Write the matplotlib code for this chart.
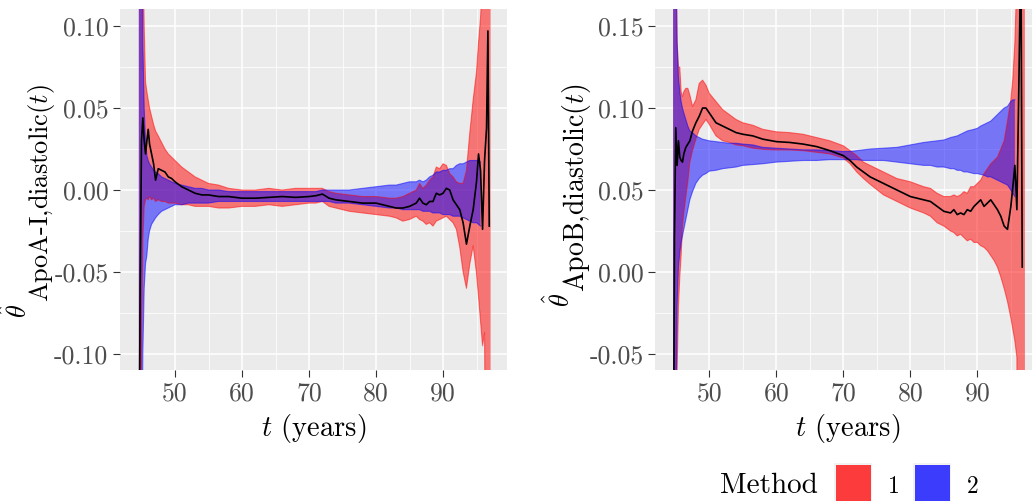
import matplotlib
matplotlib.use("Agg")
import matplotlib.pyplot as plt
import numpy as np
from matplotlib.patches import Rectangle
from matplotlib.transforms import IdentityTransform

plt.rcParams['font.family'] = 'cmr10'
plt.rcParams['mathtext.fontset'] = 'cm'
plt.rcParams['axes.unicode_minus'] = False

nan = np.nan

# age grid (years)
ages = [44.6, 44.8, 45.0, 45.2, 45.4, 45.6, 45.8, 46.0, 46.2, 46.5,
        46.8, 47.1, 47.5, 48.0, 48.5, 49.0, 49.5, 50.0, 51.0, 52.0,
        53.0, 54.0, 55.0, 56.5, 58.0, 60.0, 62.0, 64.0, 66.0, 68.0,
        70.0, 71.0, 72.0, 73.0, 74.0, 76.0, 78.0, 80.0, 82.0, 83.0,
        84.0, 85.0, 86.0, 86.5, 87.0, 87.5, 88.0, 88.5, 89.0, 89.5,
        90.0, 90.5, 91.0, 91.5, 92.0, 92.5, 93.0, 93.5, 94.0, 94.5,
        95.0, 95.3, 95.6, 95.9, 96.2, 96.5, 96.7, 96.9, 97.1]

# ApoA-I panel
apoa_est = [-0.20, -0.06, 0.030, 0.044, 0.030, 0.022, 0.030, 0.037, 0.028, 0.022,
            0.016, 0.006, 0.013, 0.012, 0.011, 0.008, 0.007, 0.005, 0.002, 0.000,
            -0.002, -0.003, -0.003, -0.004, -0.004, -0.005, -0.005, -0.0045, -0.004, -0.0045,
            -0.004, -0.0035, -0.0025, -0.005, -0.006, -0.007, -0.008, -0.008, -0.010, -0.011,
            -0.011, -0.010, -0.008, -0.005, -0.008, -0.009, -0.007, -0.007, -0.002, -0.003,
            -0.002, 0.001, 0.000, -0.006, -0.009, -0.012, -0.020, -0.033, -0.022, -0.012,
            0.005, 0.022, 0.012, -0.024, 0.018, 0.038, 0.097, -0.022, nan]
apoa_m1_hi = [0.30, 0.30, 0.25, 0.15, 0.10, 0.066, 0.060, 0.055, 0.050, 0.045,
              0.040, 0.036, 0.033, 0.029, 0.025, 0.022, 0.020, 0.018, 0.014, 0.011,
              0.008, 0.006, 0.004, 0.003, 0.001, 0.000, 0.000, 0.001, 0.000, 0.001,
              0.001, 0.001, 0.001, -0.001, -0.002, -0.003, -0.004, -0.004, -0.005, -0.005,
              -0.004, -0.002, 0.000, 0.004, 0.001, 0.003, 0.006, 0.008, 0.014, 0.013,
              0.016, 0.015, 0.010, 0.008, 0.005, 0.004, 0.004, 0.012, 0.035, 0.055,
              0.072, 0.090, 0.105, 0.13, 0.30, 0.30, 0.30, 0.30, 0.30]
apoa_m1_lo = [-0.30, -0.30, -0.10, -0.03, -0.010, -0.006, -0.005, -0.006, -0.004, -0.006,
              -0.005, -0.007, -0.006, -0.007, -0.007, -0.008, -0.008, -0.008, -0.009, -0.009,
              -0.010, -0.010, -0.010, -0.011, -0.011, -0.010, -0.010, -0.009, -0.010, -0.009,
              -0.008, -0.008, -0.007, -0.010, -0.011, -0.013, -0.014, -0.015, -0.016, -0.017,
              -0.019, -0.018, -0.016, -0.018, -0.019, -0.021, -0.020, -0.022, -0.019, -0.018,
              -0.017, -0.016, -0.018, -0.020, -0.024, -0.035, -0.050, -0.060, -0.045, -0.034,
              -0.051, -0.065, -0.080, -0.095, -0.087, -0.30, -0.30, -0.30, -0.30]
apoa_m2_hi = [0.30, 0.30, 0.20, 0.09, 0.050, 0.030, 0.021, 0.018, 0.016, 0.014,
              0.012, 0.011, 0.010, 0.008, 0.007, 0.006, 0.005, 0.004, 0.003, 0.002,
              0.001, 0.001, 0.000, 0.000, -0.001, -0.001, -0.001, -0.001, -0.001, -0.001,
              -0.001, -0.001, 0.000, 0.000, 0.000, 0.000, 0.001, 0.002, 0.003, 0.003,
              0.004, 0.005, 0.005, 0.006, 0.005, 0.006, 0.008, 0.009, 0.011, 0.011,
              0.012, 0.012, 0.013, 0.013, 0.015, 0.016, 0.016, 0.017, 0.018, 0.018,
              0.018, 0.018, 0.017, nan, nan, nan, nan, nan, nan]
apoa_m2_lo = [-0.30, -0.30, -0.20, -0.10, -0.060, -0.045, -0.040, -0.030, -0.025, -0.021,
              -0.019, -0.017, -0.015, -0.013, -0.012, -0.011, -0.010, -0.009, -0.009, -0.008,
              -0.008, -0.008, -0.008, -0.007, -0.007, -0.007, -0.007, -0.007, -0.007, -0.007,
              -0.007, -0.007, -0.007, -0.007, -0.008, -0.008, -0.009, -0.010, -0.011, -0.011,
              -0.012, -0.012, -0.012, -0.012, -0.013, -0.013, -0.013, -0.014, -0.014, -0.014,
              -0.015, -0.015, -0.015, -0.016, -0.016, -0.016, -0.017, -0.018, -0.019, -0.020,
              -0.020, -0.021, -0.022, nan, nan, nan, nan, nan, nan]

# ApoB panel
apob_est = [-0.20, 0.02, 0.088, 0.065, 0.080, 0.070, 0.068, 0.067, 0.072, 0.076,
            0.078, 0.080, 0.086, 0.091, 0.095, 0.100, 0.100, 0.097, 0.091, 0.089,
            0.087, 0.085, 0.084, 0.083, 0.081, 0.0795, 0.079, 0.078, 0.0765, 0.074,
            0.071, 0.068, 0.064, 0.061, 0.058, 0.054, 0.050, 0.046, 0.044, 0.043,
            0.040, 0.037, 0.036, 0.038, 0.035, 0.036, 0.035, 0.038, 0.037, 0.040,
            0.042, 0.044, 0.040, 0.042, 0.044, 0.041, 0.038, 0.034, 0.028, 0.026,
            0.040, 0.052, 0.065, 0.038, 0.115, 0.20, 0.003, nan, nan]
apob_m1_hi = [0.30, 0.30, 0.22, 0.14, 0.125, 0.125, 0.110, 0.107, 0.110, 0.112,
              0.112, 0.108, 0.101, 0.105, 0.115, 0.117, 0.114, 0.109, 0.104, 0.099,
              0.096, 0.093, 0.091, 0.0895, 0.087, 0.0855, 0.085, 0.084, 0.082, 0.080,
              0.077, 0.074, 0.071, 0.067, 0.065, 0.061, 0.057, 0.055, 0.052, 0.051,
              0.048, 0.046, 0.046, 0.047, 0.046, 0.047, 0.049, 0.048, 0.052, 0.052,
              0.054, 0.056, 0.060, 0.063, 0.066, 0.068, 0.070, 0.075, 0.080, 0.092,
              0.105, 0.118, 0.14, 0.18, 0.30, 0.30, 0.30, 0.30, 0.30]
apob_m1_lo = [-0.30, -0.30, -0.15, -0.06, -0.021, -0.003, 0.010, 0.028, 0.036, 0.046,
              0.055, 0.067, 0.074, 0.081, 0.087, 0.090, 0.093, 0.090, 0.083, 0.080,
              0.079, 0.0775, 0.077, 0.0755, 0.0748, 0.0744, 0.0744, 0.074, 0.073, 0.072,
              0.0695, 0.066, 0.061, 0.057, 0.0535, 0.047, 0.043, 0.039, 0.036, 0.034,
              0.030, 0.028, 0.025, 0.024, 0.022, 0.023, 0.021, 0.019, 0.020, 0.018,
              0.018, 0.016, 0.015, 0.013, 0.010, 0.007, 0.003, -0.003, -0.010, -0.018,
              -0.028, -0.035, -0.042, -0.052, -0.30, -0.30, -0.30, -0.30, -0.30]
apob_m2_hi = [0.30, 0.30, 0.20, 0.14, 0.119, 0.110, 0.104, 0.100, 0.097, 0.093,
              0.089, 0.086, 0.085, 0.083, 0.082, 0.081, 0.0805, 0.080, 0.0795, 0.079,
              0.0785, 0.0785, 0.078, 0.0775, 0.076, 0.0755, 0.075, 0.0745, 0.0745, 0.074,
              0.0735, 0.0735, 0.074, 0.0745, 0.075, 0.0755, 0.076, 0.0775, 0.079, 0.0795,
              0.080, 0.0805, 0.082, 0.0825, 0.083, 0.084, 0.085, 0.086, 0.0865, 0.087,
              0.0876, 0.089, 0.090, 0.091, 0.092, 0.094, 0.096, 0.098, 0.100, 0.101,
              0.104, 0.105, 0.105, nan, nan, nan, nan, nan, nan]
apob_m2_lo = [-0.30, -0.30, -0.10, -0.02, 0.003, 0.012, 0.018, 0.022, 0.026, 0.032,
              0.038, 0.044, 0.049, 0.054, 0.057, 0.059, 0.060, 0.0615, 0.062, 0.063,
              0.0635, 0.064, 0.065, 0.0655, 0.066, 0.067, 0.0675, 0.068, 0.068, 0.0685,
              0.0685, 0.0685, 0.0685, 0.068, 0.068, 0.068, 0.067, 0.066, 0.065, 0.065,
              0.064, 0.064, 0.063, 0.063, 0.062, 0.062, 0.061, 0.061, 0.0605, 0.060,
              0.060, 0.0595, 0.059, 0.058, 0.058, 0.057, 0.056, 0.055, 0.054, 0.053,
              0.050, 0.048, 0.046, nan, nan, nan, nan, nan, nan]

x_ticks = [50, 60, 70, 80, 90]
apoa_yticks = [-0.10, -0.05, 0.00, 0.05, 0.10]
apoa_ylabels = ["-0.10", "-0.05", "0.00", "0.05", "0.10"]
apob_yticks = [-0.05, 0.00, 0.05, 0.10, 0.15]
apob_ylabels = ["-0.05", "0.00", "0.05", "0.10", "0.15"]
methods = ["1", "2"]
method_colors = ["#FF0000", "#0000FF"]

W, H = 1032, 501
fig = plt.figure(figsize=(W / 100, H / 100), dpi=100)


def px_axes(x0, y0, x1, y1):
    return fig.add_axes([x0 / W, (H - y1) / H, (x1 - x0) / W, (y1 - y0) / H])


def draw_panel(ax, est, lo1, hi1, lo2, hi2, xlim, ylim, yticks, ylabels):
    t = np.array(ages)
    ax.set_facecolor('#EBEBEB')
    for sp in ax.spines.values():
        sp.set_visible(False)
    ax.set_axisbelow(True)
    for lo, hi, c in [(lo1, hi1, method_colors[0]), (lo2, hi2, method_colors[1])]:
        lo = np.array(lo, float)
        hi = np.array(hi, float)
        ax.fill_between(t, lo, hi, color=c, alpha=0.5, lw=0)
        ax.plot(t, lo, color=c, alpha=0.5, lw=0.8)
        ax.plot(t, hi, color=c, alpha=0.5, lw=0.8)
    ax.plot(t, np.array(est, float), color='black', lw=1.2)
    ax.set_xticks(x_ticks, labels=[str(v) for v in x_ticks])
    ax.set_xticks([45, 55, 65, 75, 85, 95], minor=True)
    ax.set_yticks(yticks, labels=ylabels)
    ax.set_yticks([(a + b) / 2 for a, b in zip(yticks[:-1], yticks[1:])]
                  + [yticks[-1] + 0.025, yticks[0] - 0.025], minor=True)
    ax.set_xlim(*xlim)
    ax.set_ylim(*ylim)
    ax.grid(which='major', color='white', lw=1.1)
    ax.grid(which='minor', color='white', lw=0.55)
    ax.tick_params(which='major', length=4.8, width=0.8, color='#333333',
                   labelcolor='#4D4D4D', labelsize=18.5, pad=3.5)
    ax.tick_params(which='minor', length=0)
    ax.set_xlabel(r'$t$ (years)', fontsize=20.5, labelpad=5)


axL = px_axes(120, 9, 507, 370)
draw_panel(axL, apoa_est, apoa_m1_lo, apoa_m1_hi, apoa_m2_lo, apoa_m2_hi,
           (41.79, 99.55), (-0.1098, 0.1104), apoa_yticks, apoa_ylabels)
axR = px_axes(655, 9, 1041, 370)
draw_panel(axR, apob_est, apob_m1_lo, apob_m1_hi, apob_m2_lo, apob_m2_hi,
           (41.9, 99.5), (-0.0598, 0.1604), apob_yticks, apob_ylabels)

# rotated y labels: hat-theta, then the subscript text and (t), read upward
idt = IdentityTransform()


def rotated_label(x_theta, x_sub, y_bottom, y_sub, sub, size):
    fig.text(x_theta, H - y_bottom, r'$\hat{\theta}$', fontsize=19, rotation=90,
             rotation_mode='anchor', ha='left', va='baseline', transform=idt)
    fig.text(x_sub, H - y_sub, sub, fontsize=size, rotation=90,
             rotation_mode='anchor', ha='left', va='baseline', transform=idt)


rotated_label(27, 48, 318, 302, r'ApoA-I,diastolic$(t)$', 19.0)
rotated_label(570, 584, 307, 292, r'ApoB,diastolic$(t)$', 20)

# legend
fig.text(720, H - 493, 'Method', fontsize=21, transform=idt, ha='left', va='baseline')
for lab, col, kx, lx in zip(methods, ['#FC3C3C', '#3C3CFC'], [834, 913], [888, 967]):
    fig.add_artist(Rectangle((kx, 0), 38, H - 463, transform=idt,
                             facecolor='#F2F2F2', edgecolor='none'))
    fig.add_artist(Rectangle((kx + 1.5, 0), 35, H - 464.5, transform=idt,
                             facecolor=col, edgecolor='none'))
    fig.text(lx, H - 493, lab, fontsize=17, transform=idt, ha='left', va='baseline')

fig.savefig('out.png', dpi=100)
